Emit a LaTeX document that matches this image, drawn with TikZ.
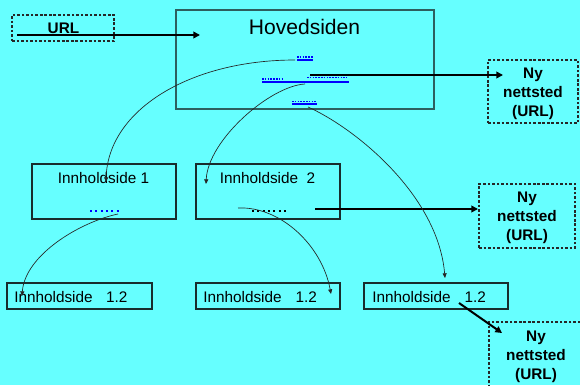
\documentclass[tikz,border=0pt]{standalone}
\usepackage{fontspec}
\setmainfont{Liberation Sans}
\usetikzlibrary{arrows.meta,fit}
\definecolor{bg}{RGB}{102,255,255}
\definecolor{boxline}{RGB}{45,95,95}
\definecolor{thinline}{RGB}{25,45,45}
\definecolor{linkblue}{RGB}{0,0,255}
\begin{document}
\begin{tikzpicture}[x=0.75pt,y=-0.75pt,
  mainbox/.style={draw=boxline, line width=1.3pt, inner sep=0pt},
  solidbox/.style={draw=thinline, line width=0.8pt, inner sep=0pt},
  dashbox/.style={draw=black!85, line width=0.8pt, dash pattern=on 2pt off 1.4pt, inner sep=0pt},
  bigarrow/.style={line width=1.5pt, -{Triangle[length=5pt,width=5pt]}},
  linkcurve/.style={line width=0.5pt, draw=black!85, -{Triangle[length=3.5pt,width=3pt]}},
  innlabel/.style={font=\fontsize{11.5}{14}\selectfont, inner sep=0pt},
  nylabel/.style={font=\fontsize{11.5}{14.25}\selectfont\bfseries, align=center, inner sep=0pt},
  bluedots/.style={linkblue, line width=1.4pt, dash pattern=on 1.4pt off 2.6pt},
  blackdots/.style={black, line width=1.4pt, dash pattern=on 1.4pt off 2.6pt},
  tinydots/.style={linkblue, line width=0.8pt, dash pattern=on 1.2pt off 0.9pt},
  underline/.style={linkblue, line width=1pt}]
\fill[bg] (0,0) rectangle (580,385);
\useasboundingbox (0,0) rectangle (580,385);
\clip (0,0) rectangle (580,385);

% boxes
\node[dashbox, fit={(12,15) (114,41)}] (url) {};
\node[mainbox, fit={(176,10) (434,109)}] (hoved) {};
\node[dashbox, fit={(488,60) (578,123)}] (ny1) {};
\node[solidbox, fit={(32,164) (176,219)}] (inn1) {};
\node[solidbox, fit={(196,164) (340,219)}] (inn2) {};
\node[dashbox, fit={(479,184) (575,248)}] (ny2) {};
\node[solidbox, fit={(7,283) (152,309)}] (inn12) {};
\node[solidbox, fit={(196,283) (340,309)}] (inn22) {};
\node[solidbox, fit={(364,283) (508,309)}] (inn32) {};
\node[dashbox, fit={(489,322) (600,400)}] (ny3) {};

% texts
\node[font=\fontsize{11.5}{14}\selectfont\bfseries, inner sep=0pt, anchor=base] (urlt) at (63.5,34) {URL};
\node[font=\fontsize{15.8}{18}\selectfont, inner sep=0pt, anchor=base] (hovedt) at (304.5,35) {Hovedsiden};
\node[nylabel] (ny1t) at (533,93.5) {Ny\\nettsted\\(URL)};
\node[nylabel] (ny2t) at (527,217.5) {Ny\\nettsted\\(URL)};
\node[nylabel] (ny3t) at (536,357) {Ny\\nettsted\\(URL)};
\node[innlabel, anchor=base] (inn1t) at (103.5,183) {Innholdside 1};
\node[innlabel, anchor=base] (inn2t) at (267.5,183) {Innholdside\ \ 2};
\node[innlabel, anchor=base west] (inn12t) at (14,302) {Innholdside\hspace{10pt}1.2};
\node[innlabel, anchor=base west] (inn22t) at (203,302) {Innholdside\hspace{10.5pt}1.2};
\node[innlabel, anchor=base west] (inn32t) at (372,302) {Innholdside\hspace{10.5pt}1.2};

% links in Hovedsiden
\draw[tinydots] (297,57) -- (313,57);
\draw[underline] (297,60) -- (313,60);
\draw[tinydots] (262,79) -- (282,79);
\draw[tinydots] (307,77.5) -- (347,77.5);
\draw[underline] (262,82) -- (349,82);
\draw[tinydots] (292,101.5) -- (317,101.5);
\draw[underline] (292,104) -- (317,104);

% dots in content boxes
\draw[bluedots] (90,211) -- (119,211);
\draw[blackdots] (252,211) -- (287,211);

% coordinates
\coordinate (urlS) at (17,35);
\coordinate (urlE) at (200,35);
\coordinate (l1) at (295,60);
\coordinate (l2) at (305,84);
\coordinate (l2b) at (310,75);
\coordinate (l3) at (308,107);
\coordinate (e1) at (106,182);
\coordinate (e2) at (206,184);
\coordinate (e3) at (445,278);
\coordinate (d1) at (118,214);
\coordinate (d2) at (238,208);
\coordinate (d2b) at (315,209);
\coordinate (e4) at (22,296);
\coordinate (e5) at (331,294);
\coordinate (n1) at (503,75);
\coordinate (n2) at (478,209);
\coordinate (s6) at (459,303);
\coordinate (n3) at (502,333);

% thick arrows
\draw[bigarrow] (urlS) -- (urlE);
\draw[bigarrow] (l2b) -- (n1);
\draw[bigarrow] (d2b) -- (n2);
\draw[bigarrow] (s6) -- (n3);

% thin curved links
\draw[linkcurve] (l1) .. controls (190,60) and (108,110) .. (e1);
\draw[linkcurve] (l2) .. controls (270,86) and (208,140) .. (e2);
\draw[linkcurve] (l3) .. controls (355,128) and (438,195) .. (e3);
\draw[linkcurve] (d1) .. controls (80,222) and (25,255) .. (e4);
\draw[linkcurve] (d2) .. controls (280,206) and (322,245) .. (e5);
\end{tikzpicture}
\end{document}
